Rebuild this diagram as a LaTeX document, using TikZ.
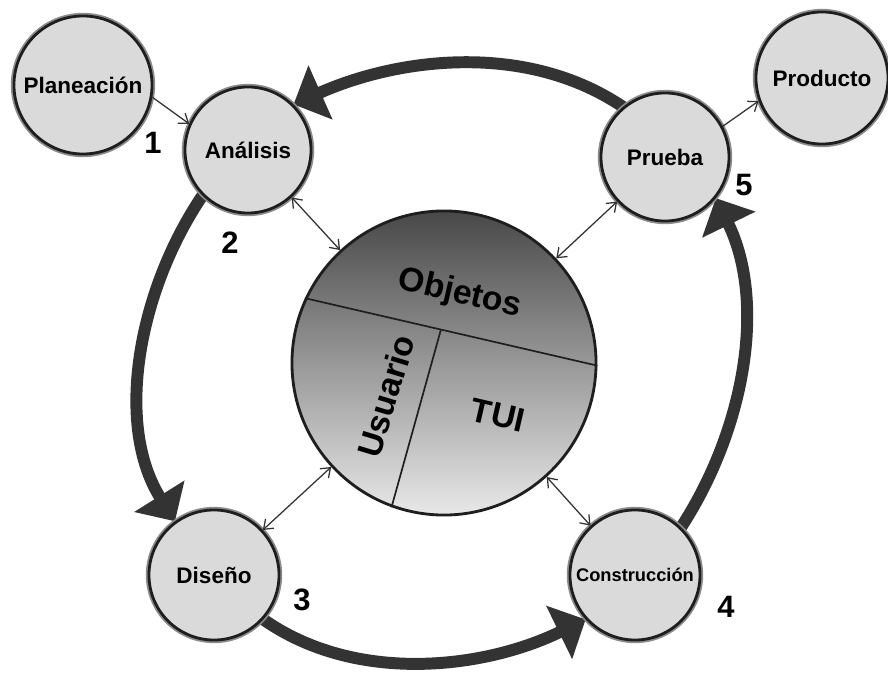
\documentclass[tikz,border=0pt]{standalone}
\usepackage{fontspec}
\setmainfont{Liberation Sans}
\usetikzlibrary{arrows.meta,calc,positioning,backgrounds}
\definecolor{Ink}{HTML}{1E1E1E}
\definecolor{Ring}{HTML}{333333}
\definecolor{Disc}{HTML}{DADADA}
\definecolor{Halo}{HTML}{8C8C8C}
\definecolor{CoreTop}{HTML}{484848}
\definecolor{CoreBottom}{HTML}{E8E8E8}
\tikzset{phase/.style={circle,draw=Ink,fill=Disc,line width=2pt,preaction={draw=Halo,line width=4.5pt},inner sep=0pt,align=center,font=\bfseries\fontsize{16}{18}\selectfont},core/.style={circle,draw=Ink,line width=2pt,top color=CoreTop,bottom color=CoreBottom,minimum size=7.6cm,inner sep=0pt},num/.style={inner sep=0pt,font=\bfseries\fontsize{22}{24}\selectfont},part/.style={inner sep=0pt,font=\bfseries\fontsize{24}{26}\selectfont},ring/.style={-{Triangle[length=21pt,width=41pt]},line width=8.5pt,draw=Ring,looseness=.9},link/.style={{Straight Barb[length=6pt,width=9pt]}-{Straight Barb[length=6pt,width=9pt]},line width=.9pt,draw=Ring},feed/.style={-{Straight Barb[length=6pt,width=9pt]},line width=.9pt,draw=Ring},split/.style={line width=1.2pt,draw=Ink}}

\begin{document}
\begin{tikzpicture}[x=0.025cm,y=0.025cm]
      \useasboundingbox (0,0) rectangle (888,-674);
      \node[core](core) at (444,-363){};
      \node[phase,minimum size=3.45cm](plan) at (83,-85){Planeación};
      \node[phase,minimum size=3.15cm](anal) at (248,-150){Análisis};
      \node[phase,minimum size=3.2cm](prueba) at (665,-157){Prueba};
      \node[phase,minimum size=3.3cm](prod) at (822,-78){Producto};
      \node[phase,minimum size=3.25cm](dis) at (214,-575){Diseño};
      \node[phase,minimum size=3.25cm,font=\bfseries\fontsize{13}{15}\selectfont](cons) at (635,-575){Construcción};
      \node[num](n1) at (153,-143){1};
      \node[num](n2) at (230,-243){2};
      \node[num](n3) at (302,-600){3};
      \node[num](n4) at (726,-607){4};
      \node[num](n5) at (744,-185){5};
      \draw[split](core.155)--coordinate[pos=.465](mid)(core.-1);
      \draw[split](mid)--(core.250);
      \node[part,rotate=-13](obj) at (460,-294){Objetos};
      \node[part,rotate=73](usr) at (386,-396){Usuario};
      \node[part,rotate=-13](tui) at (498,-415){TUI};
      \draw[link](anal)--(core);\draw[link](prueba)--(core);
      \draw[link](dis)--(core);\draw[link](cons)--(core);
      \draw[feed](plan.-10)--(anal.156);
      \draw[feed](prueba.28)--(prod.200);
      \begin{scope}[on background layer]
        \fill[white](0,0) rectangle (888,-674);
        \draw[ring](prueba.130) to[out=146,in=24](anal.45);
        \draw[ring](anal.225) to[out=236,in=122](dis.126);
        \draw[ring](dis.318) to[out=325,in=206](cons.222);
        \draw[ring](cons.46) to[out=57,in=296](prueba.321);
      \end{scope}
    \end{tikzpicture}
\end{document}
